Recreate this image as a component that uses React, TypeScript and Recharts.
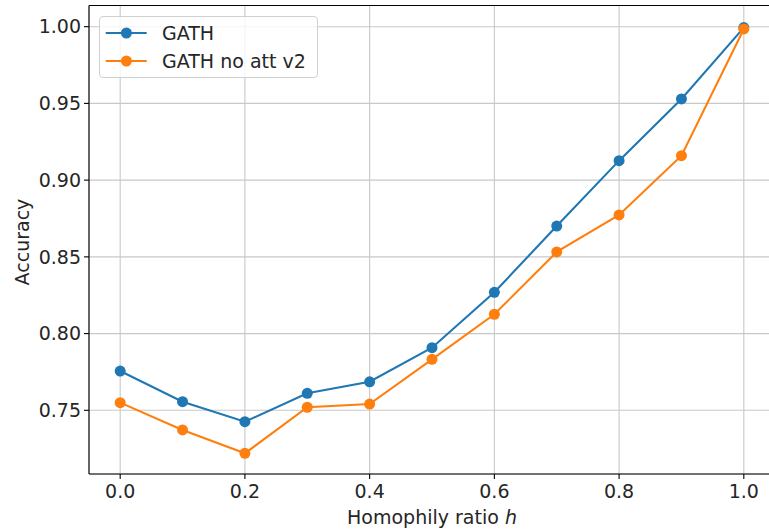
import React from "react";
import {
  LineChart,
  Line,
  XAxis,
  YAxis,
  CartesianGrid,
  Legend,
  ReferenceLine,
  Label,
} from "recharts";

const homophily = [0.0, 0.1, 0.2, 0.3, 0.4, 0.5, 0.6, 0.7, 0.8, 0.9, 1.0];
const gath = [0.7756, 0.7556, 0.7426, 0.7611, 0.7686, 0.7908, 0.8269, 0.8701, 0.9127, 0.9529, 0.9994];
const gathNoAtt = [0.755, 0.7372, 0.722, 0.752, 0.7541, 0.7832, 0.8126, 0.8532, 0.8773, 0.9159, 0.9985];
const xTicks = [0.0, 0.2, 0.4, 0.6, 0.8, 1.0];
const yTicks = [0.75, 0.8, 0.85, 0.9, 0.95, 1.0];
const seriesNames = ["GATH", "GATH no att v2"];
const seriesColors = ["#1f77b4", "#ff7f0e"];

const X_DOMAIN: [number, number] = [-0.05, 1.05];
const Y_DOMAIN: [number, number] = [0.7085, 1.0138];

const data = homophily.map((h, i) => ({ h, gath: gath[i], noatt: gathNoAtt[i] }));

const FONT = "'DejaVu Sans', sans-serif";
const TEXT = "#262626";

const LegendBox = () => (
  <div
    style={{
      width: 217,
      height: 60,
      border: "1px solid #d0d0d0",
      borderRadius: 4,
      background: "rgba(255,255,255,0.8)",
      fontFamily: FONT,
      fontSize: 19,
      color: TEXT,
      position: "relative",
    }}
  >
    {seriesNames.map((name, i) => (
      <div
        key={name}
        style={{
          position: "absolute",
          left: 0,
          top: 16.3 + i * 27.7 - 12,
          height: 24,
          display: "flex",
          alignItems: "center",
          whiteSpace: "nowrap",
        }}
      >
        <svg width={62} height={24} style={{ display: "block" }}>
          <line x1={5.7} x2={46.7} y1={12} y2={12} stroke={seriesColors[i]} strokeWidth={2.1} />
          <circle cx={26.4} cy={12} r={5.5} fill={seriesColors[i]} />
        </svg>
        <span style={{ lineHeight: "24px" }}>{name}</span>
      </div>
    ))}
  </div>
);

export default function App() {
  return (
    <div
      style={{
        position: "absolute",
        left: 0,
        top: 0,
        width: 769,
        height: 529,
        overflow: "hidden",
        background: "#fff",
      }}
    >
      <LineChart
        width={775}
        height={529}
        data={data}
        margin={{ top: 5.5, right: 0, bottom: 0, left: 0 }}
      >
        <CartesianGrid stroke="#c8c8c8" strokeWidth={1.1} />
        <XAxis
          dataKey="h"
          type="number"
          domain={X_DOMAIN}
          ticks={xTicks}
          allowDataOverflow
          tickFormatter={(v: number) => v.toFixed(1)}
          height={55}
          tickSize={5}
          tickMargin={6}
          axisLine={{ stroke: "#000", strokeWidth: 1.1 }}
          tickLine={{ stroke: "#000", strokeWidth: 1.1 }}
          tick={{ fill: TEXT, fontSize: 19, fontFamily: FONT }}
        >
          <Label
            content={(props: any) => {
              const vb = props.viewBox;
              return (
                <text
                  x={vb.x + vb.width / 2}
                  y={523.5}
                  textAnchor="middle"
                  fill={TEXT}
                  fontSize={19}
                  fontFamily={FONT}
                >
                  Homophily ratio <tspan fontStyle="italic">h</tspan>
                </text>
              );
            }}
          />
        </XAxis>
        <YAxis
          type="number"
          domain={Y_DOMAIN}
          ticks={yTicks}
          allowDataOverflow
          tickFormatter={(v: number) => v.toFixed(2)}
          width={89}
          tickSize={5}
          tickMargin={3}
          axisLine={{ stroke: "#000", strokeWidth: 1.1 }}
          tickLine={{ stroke: "#000", strokeWidth: 1.1 }}
          tick={{ fill: TEXT, fontSize: 19, fontFamily: FONT }}
        >
          <Label
            content={(props: any) => {
              const vb = props.viewBox;
              const cx = 28.5;
              const cy = 242;
              return (
                <text
                  x={cx}
                  y={cy}
                  transform={`rotate(-90 ${cx} ${cy})`}
                  textAnchor="middle"
                  fill={TEXT}
                  fontSize={19}
                  fontFamily={FONT}
                >
                  Accuracy
                </text>
              );
            }}
          />
        </YAxis>
        <ReferenceLine y={Y_DOMAIN[1]} stroke="#000" strokeWidth={1.1} />
        <ReferenceLine x={X_DOMAIN[1]} stroke="#000" strokeWidth={1.1} />
        <Line
          dataKey="gath"
          name={seriesNames[0]}
          stroke={seriesColors[0]}
          strokeWidth={2.1}
          dot={{ r: 5.5, fill: seriesColors[0], stroke: "none" }}
          activeDot={false}
          isAnimationActive={false}
        />
        <Line
          dataKey="noatt"
          name={seriesNames[1]}
          stroke={seriesColors[1]}
          strokeWidth={2.1}
          dot={{ r: 5.5, fill: seriesColors[1], stroke: "none" }}
          activeDot={false}
          isAnimationActive={false}
        />
        <Legend
          layout="horizontal"
          align="center"
          verticalAlign="middle"
          content={() => <LegendBox />}
          wrapperStyle={{ position: "absolute", left: 99, top: 16, width: "auto", height: "auto" }}
        />
      </LineChart>
    </div>
  );
}
